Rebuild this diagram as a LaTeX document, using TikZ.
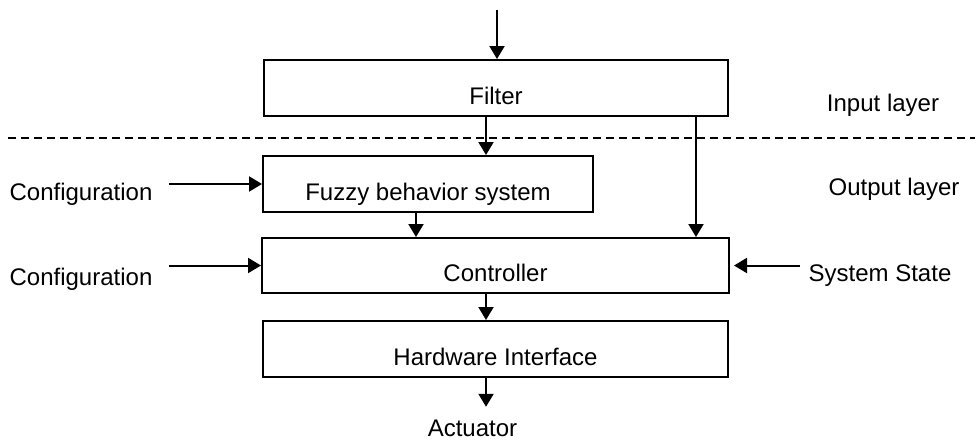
\documentclass[tikz,border=0pt]{standalone}
\usepackage{fontspec}
\setmainfont{Liberation Sans}
\usepackage{tikz}
\usetikzlibrary{arrows.meta, positioning, calc}

\begin{document}
\begin{tikzpicture}[
        x=0.5pt, y=-0.5pt,
        font=\fontsize{12}{14}\selectfont,
        block/.style={rectangle, draw=black, line width=1pt, fill=white, minimum height=28pt, inner sep=0pt, text height=16pt, text depth=0pt, align=center},
        tag/.style={anchor=base, inner sep=4pt},
        flow/.style={line width=1pt, -{Triangle[length=6.5pt, width=7.5pt]}}
    ]
        \useasboundingbox (0,0) rectangle (980,441);

        % layer separator
        \draw[line width=0.8pt, dash pattern=on 4pt off 2.5pt] (8,138) -- (975,138);
        \node[tag] (inlayer) at (883,111) {Input layer};
        \node[tag] (outlayer) at (894,195) {Output layer};

        % processing blocks
        \node[block, minimum width=232pt] (filter) at (496,88) {Filter};
        \node[block, minimum width=165pt] (fuzzy) at (428,184) {Fuzzy behavior system};
        \node[block, minimum width=233.5pt, minimum height=27.5pt] (ctrl) at (495.5,265.5) {Controller};
        \node[block, minimum width=232.5pt] (hwif) at (495.5,349) {Hardware Interface};

        % side inputs and output
        \node[tag] (cfgA) at (81,200) {Configuration};
        \node[tag] (cfgB) at (81,285) {Configuration};
        \node[tag] (sysstate) at (880,281.7) {System State};
        \node[tag] (act) at (472.5,436.7) {Actuator};

        % column positions of the vertical links
        \coordinate (src) at (497,10);
        \coordinate (midx) at (486,0);
        \coordinate (fx) at (416,0);
        \coordinate (rx) at (696,0);

        \draw[flow] (src) -- (src |- filter.north);
        \draw[flow] (filter.south -| midx) -- (fuzzy.north -| midx);
        \draw[flow] (filter.south -| rx) -- (ctrl.north -| rx);
        \draw[flow] (fuzzy.south -| fx) -- (ctrl.north -| fx);
        \draw[flow] (ctrl.south -| midx) -- (hwif.north -| midx);
        \draw[flow] (hwif.south -| midx) -- ([yshift=2.5pt]act.north -| midx);

        \draw[flow] ([xshift=4pt]cfgA.east |- fuzzy.west) -- (fuzzy.west);
        \draw[flow] ([xshift=4pt]cfgB.east |- ctrl.west) -- (ctrl.west);
        \draw[flow] (sysstate.west |- ctrl.east) -- ([xshift=2pt]ctrl.east);
    \end{tikzpicture}
\end{document}
